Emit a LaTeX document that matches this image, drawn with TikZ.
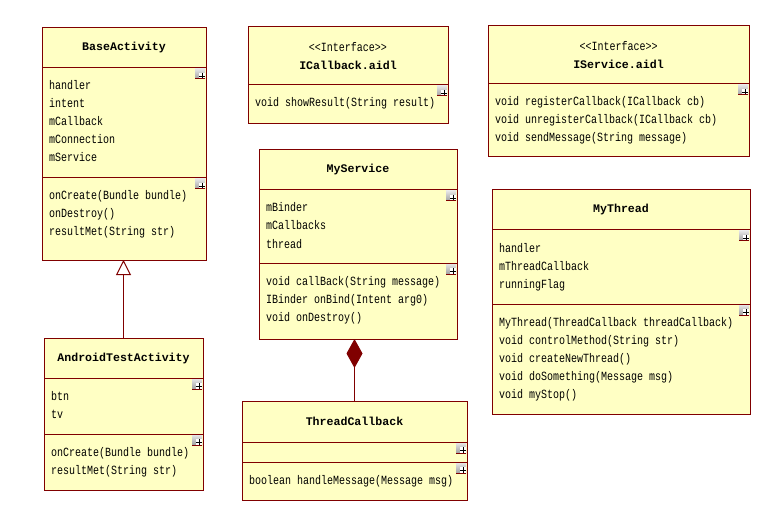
\documentclass[tikz,border=0pt]{standalone}
\usepackage{fontspec}
\newfontfamily\umlfont[FakeStretch=0.8]{Liberation Mono}
\newfontfamily\umlbold{Liberation Mono}
\usetikzlibrary{arrows.meta}
\definecolor{umlfill}{HTML}{FFFFC4}
\definecolor{umlline}{HTML}{800000}

\tikzset{
  compart/.style={draw=umlline, fill=umlfill, line width=1pt, anchor=north west,
    inner sep=0pt, outer sep=0pt, align=center,
    font=\umlfont\fontsize{12.5}{18}\selectfont},
  member/.style={anchor=base west, inner sep=0pt,
    font=\umlfont\fontsize{12.5}{18}\selectfont},
  inherit/.style={draw=umlline, line width=1pt,
    -{Triangle[open, length=15pt, width=15pt]}},
  compose/.style={draw=umlline, line width=1pt,
    -{Diamond[length=29pt, width=16pt]}}
}

\begin{document}
\begin{tikzpicture}[x=1pt, y=-1pt]
\fill[white] (0,0) rectangle (781,521);

% BaseActivity
\node[compart, minimum width=164pt, minimum height=40pt] (baseT) at (42,28) {\umlbold\fontsize{11.6}{18}\selectfont\bfseries BaseActivity};
\node[compart, minimum width=164pt, minimum height=110pt] (baseA) at (42,68) {};
\node[compart, minimum width=164pt, minimum height=82pt] (baseM) at (42,178) {};
\foreach \t [count=\i] in {handler,intent,mCallback,mConnection,mService}
  \node[member] (baseA\i) at ([shift={(7,4+18*\i)}]baseA.north west) {\t};
\foreach \t [count=\i] in {onCreate(Bundle bundle),onDestroy(),resultMet(String str)}
  \node[member] (baseM\i) at ([shift={(7,4+18*\i)}]baseM.north west) {\t};

% AndroidTestActivity
\node[compart, minimum width=159pt, minimum height=40pt] (andT) at (44,338) {\umlbold\fontsize{11.6}{18}\selectfont\bfseries AndroidTestActivity};
\node[compart, minimum width=159pt, minimum height=56pt] (andA) at (44,378) {};
\node[compart, minimum width=159pt, minimum height=56pt] (andM) at (44,434) {};
\foreach \t [count=\i] in {btn,tv}
  \node[member] (andA\i) at ([shift={(7,4+18*\i)}]andA.north west) {\t};
\foreach \t [count=\i] in {onCreate(Bundle bundle),resultMet(String str)}
  \node[member] (andM\i) at ([shift={(7,4+18*\i)}]andM.north west) {\t};

% ICallback.aidl
\node[compart, minimum width=200pt, minimum height=58pt] (icbT) at (248,27) {<<Interface>>\\\umlbold\fontsize{11.6}{18}\selectfont\bfseries ICallback.aidl};
\node[compart, minimum width=200pt, minimum height=39pt] (icbM) at (248,85) {};
\node[member] (icbM1) at ([shift={(7,22)}]icbM.north west) {void showResult(String result)};

% IService.aidl
\node[compart, minimum width=261pt, minimum height=58pt] (isvT) at (488,26) {<<Interface>>\\\umlbold\fontsize{11.6}{18}\selectfont\bfseries IService.aidl};
\node[compart, minimum width=261pt, minimum height=73pt] (isvM) at (488,84) {};
\foreach \t [count=\i] in {void registerCallback(ICallback cb),void unregisterCallback(ICallback cb),void sendMessage(String message)}
  \node[member] (isvM\i) at ([shift={(7,4+18*\i)}]isvM.north west) {\t};

% MyService
\node[compart, minimum width=198pt, minimum height=40pt] (svcT) at (259,150) {\umlbold\fontsize{11.6}{18}\selectfont\bfseries MyService};
\node[compart, minimum width=198pt, minimum height=73pt] (svcA) at (259,190) {};
\node[compart, minimum width=198pt, minimum height=76pt] (svcM) at (259,263) {};
\foreach \t [count=\i] in {mBinder,mCallbacks,thread}
  \node[member] (svcA\i) at ([shift={(7,4+18*\i)}]svcA.north west) {\t};
\foreach \t [count=\i] in {void callBack(String message),IBinder onBind(Intent arg0),void onDestroy()}
  \node[member] (svcM\i) at ([shift={(7,4+18*\i)}]svcM.north west) {\t};

% ThreadCallback
\node[compart, minimum width=225pt, minimum height=41pt] (tcT) at (242,401) {\umlbold\fontsize{11.6}{18}\selectfont\bfseries ThreadCallback};
\node[compart, minimum width=225pt, minimum height=20pt] (tcA) at (242,442) {};
\node[compart, minimum width=225pt, minimum height=38pt] (tcM) at (242,462) {};
\node[member] (tcM1) at ([shift={(7,22)}]tcM.north west) {boolean handleMessage(Message msg)};

% MyThread
\node[compart, minimum width=258pt, minimum height=40pt] (thrT) at (492,190) {\umlbold\fontsize{11.6}{18}\selectfont\bfseries MyThread};
\node[compart, minimum width=258pt, minimum height=74pt] (thrA) at (492,230) {};
\node[compart, minimum width=258pt, minimum height=110pt] (thrM) at (492,304) {};
\foreach \t [count=\i] in {handler,mThreadCallback,runningFlag}
  \node[member] (thrA\i) at ([shift={(7,4+18*\i)}]thrA.north west) {\t};
\foreach \t [count=\i] in {MyThread(ThreadCallback threadCallback),void controlMethod(String str),void createNewThread(),void doSomething(Message msg),void myStop()}
  \node[member] (thrM\i) at ([shift={(7,4+18*\i)}]thrM.north west) {\t};

% compartment icons
\foreach \c in {baseA,baseM,andA,andM,icbM,isvM,svcA,svcM,tcA,tcM,thrA,thrM} {
  \begin{scope}[shift={(\c.north east)}]
    \shade[top color=gray!20, bottom color=gray!75] (-11,1) rectangle (-1,11);
    \fill[white] (-7,5) rectangle (-1,11);
    \draw[black, line width=0.8pt] (-7,8) -- (-1,8) (-4,5) -- (-4,11);
    \draw[umlline, line width=1pt] (-11,11) -- (-1,11);
  \end{scope}
}

% relations
\draw[inherit] (andT.north) -- (andT.north |- baseM.south);
\draw[compose] (tcT.north) -- (tcT.north |- svcM.south);

\end{tikzpicture}
\end{document}
